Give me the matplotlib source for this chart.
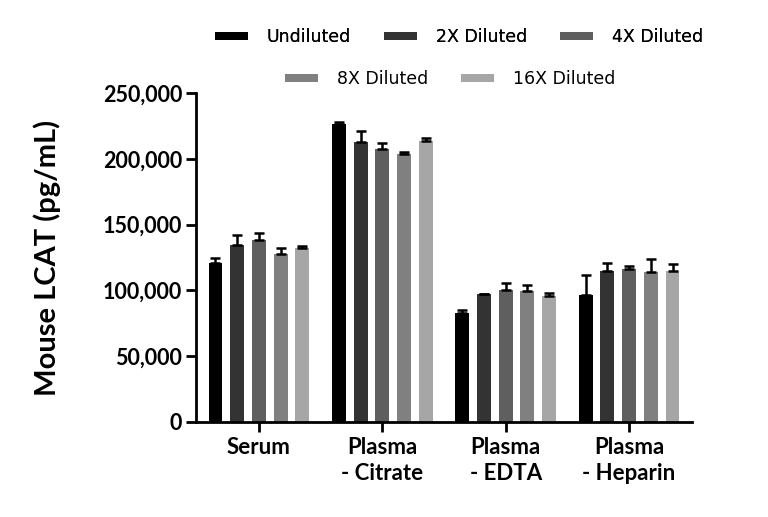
import matplotlib

matplotlib.use("Agg")
import matplotlib.pyplot as plt
import numpy as np

categories = ["Serum", "Plasma\n- Citrate", "Plasma\n- EDTA", "Plasma\n- Heparin"]
series_names = ["Undiluted", "2X Diluted", "4X Diluted", "8X Diluted", "16X Diluted"]
colors = ["#000000", "#333333", "#5f5f5f", "#808080", "#a6a6a6"]

# mean values per series (one per category)
undiluted = [120600, 226200, 82600, 96500]
diluted_2x = [134500, 213000, 97000, 115000]
diluted_4x = [138300, 207200, 100300, 116300]
diluted_8x = [127700, 203400, 99500, 114200]
diluted_16x = [132000, 213500, 95700, 114700]

# upper error (SD)
err_undiluted = [3800, 2000, 2500, 15200]
err_2x = [7600, 8100, 0, 5600]
err_4x = [5100, 5000, 5100, 2500]
err_8x = [4300, 1500, 4600, 9400]
err_16x = [1700, 2500, 2100, 5100]

values = [undiluted, diluted_2x, diluted_4x, diluted_8x, diluted_16x]
errors = [err_undiluted, err_2x, err_4x, err_8x, err_16x]

plt.rcParams["font.family"] = ["Lato", "DejaVu Sans"]

fig = plt.figure(figsize=(7.68, 5.17), dpi=100)
ax = fig.add_axes([196 / 768, 1 - 422 / 517, (692 - 196) / 768, (422 - 93) / 517])

x = np.arange(len(categories))
step = 0.176
width = 0.113
handles = []
for i, (name, vals, errs, c) in enumerate(zip(series_names, values, errors, colors)):
    pos = x + (i - 2) * step
    b = ax.bar(pos, vals, width=width, color=c, label=name, zorder=2)
    ax.errorbar(pos, vals, yerr=[np.zeros(len(errs)), errs], fmt="none",
                ecolor="black", elinewidth=1.8, capsize=3.5, capthick=1.8, zorder=3)
    handles.append(b)

ax.set_xlim(-0.51, 3.51)
ax.set_ylim(0, 250000)
ax.set_yticks(np.arange(0, 250001, 50000))
ax.yaxis.set_major_formatter(matplotlib.ticker.FuncFormatter(lambda v, p: f"{int(v):,}"))
ax.set_xticks(x)
ax.set_xticklabels(categories, fontsize=16, fontweight="bold", linespacing=1.3)
ax.tick_params(axis="y", labelsize=15.5, width=2, length=7, direction="out", pad=3)
for lbl in ax.get_yticklabels():
    lbl.set_fontweight("bold")
ax.tick_params(axis="x", width=2, length=7, direction="out", pad=4)
ax.set_ylabel("Mouse LCAT (pg/mL)", fontsize=21, fontweight="bold", labelpad=30)

ax.spines["top"].set_visible(False)
ax.spines["right"].set_visible(False)
ax.spines["left"].set_linewidth(2)
ax.spines["bottom"].set_linewidth(2)

leg_kw = dict(loc="center", frameon=False,
              prop={"family": ["DejaVu Sans"], "size": 12.5, "weight": "normal"},
              handlelength=1.9, handleheight=0.35, columnspacing=1.9, handletextpad=1.1)
leg1 = fig.legend(handles[:3], series_names[:3], bbox_to_anchor=(459 / 768, 1 - 37 / 517), ncol=3, **leg_kw)
fig.add_artist(leg1)
fig.legend(handles[3:], series_names[3:], bbox_to_anchor=(450 / 768, 1 - 79 / 517), ncol=2, **leg_kw)

fig.savefig("out.png", dpi=100)
